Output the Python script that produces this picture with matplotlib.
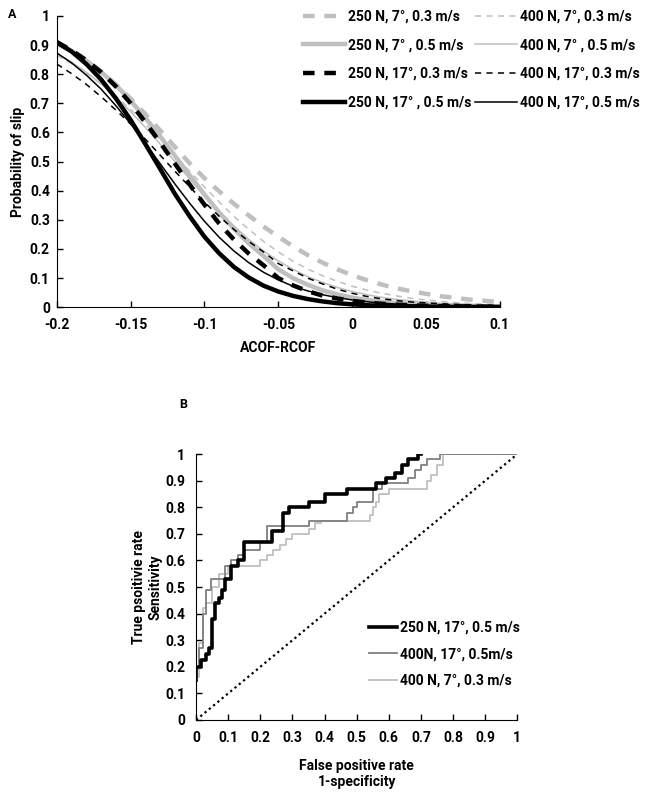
import numpy as np
import matplotlib
matplotlib.use("Agg")
import matplotlib.pyplot as plt
from matplotlib.lines import Line2D

plt.rcParams['font.family'] = ['Roboto', 'DejaVu Sans']
plt.rcParams['font.weight'] = 'bold'
plt.rcParams['axes.labelweight'] = 'bold'
plt.rcParams['font.size'] = 10

# panel A: probability of slip vs ACOF-RCOF
acof = [-0.20, -0.19, -0.18, -0.17, -0.16, -0.15, -0.14, -0.13, -0.12, -0.11,
        -0.10, -0.09, -0.08, -0.07, -0.06, -0.05, -0.04, -0.03, -0.02, -0.01,
        0.00, 0.01, 0.02, 0.03, 0.04, 0.05, 0.06, 0.07, 0.08, 0.09, 0.10]

p_250_7_03 = [0.905, 0.878, 0.846, 0.808, 0.765, 0.716, 0.663, 0.607, 0.550, 0.494,
              0.443, 0.398, 0.355, 0.315, 0.277, 0.242, 0.209, 0.179, 0.153, 0.130,
              0.110, 0.093, 0.078, 0.065, 0.055, 0.046, 0.038, 0.032, 0.026, 0.022, 0.018]
p_400_7_03 = [0.864, 0.836, 0.804, 0.767, 0.725, 0.679, 0.629, 0.577, 0.522, 0.467,
              0.413, 0.361, 0.312, 0.267, 0.226, 0.190, 0.158, 0.131, 0.108, 0.089,
              0.072, 0.059, 0.048, 0.039, 0.031, 0.025, 0.020, 0.016, 0.013, 0.011, 0.009]
p_250_7_05 = [0.905, 0.879, 0.847, 0.808, 0.763, 0.709, 0.650, 0.587, 0.520, 0.453,
              0.387, 0.325, 0.269, 0.219, 0.176, 0.130, 0.100, 0.077, 0.058, 0.044,
              0.033, 0.025, 0.019, 0.014, 0.011, 0.008, 0.006, 0.005, 0.004, 0.003, 0.003]
p_400_7_05 = [0.870, 0.841, 0.807, 0.767, 0.721, 0.671, 0.617, 0.560, 0.500, 0.440,
              0.382, 0.329, 0.279, 0.233, 0.193, 0.159, 0.130, 0.105, 0.085, 0.068,
              0.054, 0.043, 0.034, 0.027, 0.022, 0.017, 0.014, 0.012, 0.010, 0.008, 0.007]
p_250_17_03 = [0.910, 0.882, 0.848, 0.807, 0.758, 0.700, 0.635, 0.565, 0.493, 0.421,
               0.352, 0.287, 0.232, 0.184, 0.144, 0.100, 0.075, 0.055, 0.040, 0.030,
               0.022, 0.016, 0.012, 0.009, 0.007, 0.005, 0.004, 0.003, 0.003, 0.002, 0.002]
p_400_17_03 = [0.835, 0.802, 0.765, 0.723, 0.677, 0.629, 0.577, 0.522, 0.467, 0.413,
               0.361, 0.312, 0.267, 0.226, 0.190, 0.150, 0.125, 0.100, 0.080, 0.062,
               0.048, 0.037, 0.029, 0.023, 0.018, 0.015, 0.012, 0.010, 0.008, 0.007, 0.006]
p_250_17_05 = [0.910, 0.878, 0.835, 0.782, 0.717, 0.643, 0.560, 0.475, 0.389, 0.312,
               0.242, 0.185, 0.138, 0.102, 0.074, 0.054, 0.039, 0.028, 0.020, 0.014,
               0.010, 0.007, 0.005, 0.004, 0.003, 0.002, 0.002, 0.001, 0.001, 0.001, 0.001]
p_400_17_05 = [0.873, 0.839, 0.797, 0.749, 0.692, 0.630, 0.562, 0.493, 0.423, 0.357,
               0.295, 0.240, 0.193, 0.153, 0.120, 0.094, 0.072, 0.056, 0.043, 0.033,
               0.025, 0.019, 0.014, 0.011, 0.008, 0.006, 0.005, 0.004, 0.003, 0.002, 0.002]

# panel B: ROC curves (step points: fpr, tpr)
fpr_250_17_05 = [0, 0, 0.016, 0.03, 0.04, 0.05, 0.06, 0.07, 0.08, 0.09, 0.11, 0.13, 0.15,
                 0.235, 0.27, 0.29, 0.35, 0.40, 0.47, 0.56, 0.59, 0.62, 0.64, 0.66, 0.69, 0.70]
tpr_250_17_05 = [0.15, 0.20, 0.225, 0.25, 0.27, 0.38, 0.44, 0.46, 0.49, 0.53, 0.58, 0.60, 0.67,
                 0.71, 0.78, 0.80, 0.82, 0.85, 0.87, 0.89, 0.91, 0.93, 0.96, 0.98, 1.0, 1.0]
fpr_400_17_05 = [0, 0, 0.01, 0.02, 0.03, 0.045, 0.09, 0.11, 0.13, 0.15, 0.20, 0.22, 0.35,
                 0.47, 0.49, 0.50, 0.55, 0.58, 0.66, 0.68, 0.70, 0.72, 0.76, 1.0]
tpr_400_17_05 = [0.0, 0.20, 0.27, 0.40, 0.49, 0.53, 0.58, 0.60, 0.62, 0.64, 0.67, 0.73, 0.75,
                 0.78, 0.80, 0.82, 0.87, 0.89, 0.91, 0.94, 0.96, 0.98, 1.0, 1.0]
fpr_400_7_03 = [0, 0, 0.01, 0.02, 0.03, 0.05, 0.07, 0.10, 0.15, 0.20, 0.22, 0.24, 0.26, 0.28,
                0.30, 0.35, 0.37, 0.39, 0.52, 0.54, 0.55, 0.56, 0.57, 0.60, 0.70, 0.72, 0.73,
                0.75, 0.77, 1.0]
tpr_400_7_03 = [0.15, 0.16, 0.29, 0.42, 0.44, 0.50, 0.55, 0.58, 0.58, 0.60, 0.62, 0.64, 0.66,
                0.68, 0.70, 0.72, 0.74, 0.75, 0.75, 0.77, 0.80, 0.82, 0.85, 0.87, 0.87, 0.90,
                0.92, 0.96, 1.0, 1.0]

tick_labels = ['0', '0.1', '0.2', '0.3', '0.4', '0.5', '0.6', '0.7', '0.8', '0.9', '1']

fig = plt.figure(figsize=(6.45, 7.96), dpi=100)

LG = '#BFBFBF'
DG = '#7F7F7F'

# ---- panel A
ax1 = fig.add_axes([0.088, 0.614, 0.687, 0.366])
l1, = ax1.plot(acof, p_250_7_03, color=LG, lw=3.2, dashes=(2.6, 2.2))
l2, = ax1.plot(acof, p_400_7_03, color=LG, lw=1.1, dashes=(4, 3.5))
l3, = ax1.plot(acof, p_250_7_05, color=LG, lw=3.2)
l4, = ax1.plot(acof, p_400_7_05, color=LG, lw=1.1)
l5, = ax1.plot(acof, p_250_17_03, color='black', lw=3.2, dashes=(2.6, 2.2))
l6, = ax1.plot(acof, p_400_17_03, color='black', lw=1.1, dashes=(4, 3.5))
l7, = ax1.plot(acof, p_250_17_05, color='black', lw=3.2)
l8, = ax1.plot(acof, p_400_17_05, color='black', lw=1.1)

ax1.set_xlim(-0.2, 0.1)
ax1.set_ylim(0, 1)
ax1.set_xticks([-0.2, -0.15, -0.1, -0.05, 0, 0.05, 0.1])
ax1.set_xticklabels(['-0.2', '-0.15', '-0.1', '-0.05', '0', '0.05', '0.1'])
ax1.set_yticks(np.arange(0, 1.01, 0.1))
ax1.set_yticklabels(tick_labels)
ax1.tick_params(direction='in', length=4, width=1, pad=8)
ax1.tick_params(axis='y', pad=5)
ax1.spines['top'].set_visible(False)
ax1.spines['right'].set_visible(False)
ax1.set_xlabel('ACOF-RCOF', labelpad=6)
ax1.set_ylabel('Probability of slip')
ax1.yaxis.set_label_coords(-0.072, 0.5)

fig.legend([l1, l3, l5, l7, l2, l4, l6, l8],
           ['250 N, 7°, 0.3 m/s', '250 N, 7° , 0.5 m/s', '250 N, 17°, 0.3 m/s', '250 N, 17° , 0.5 m/s',
            '400 N, 7°, 0.3 m/s', '400 N, 7° , 0.5 m/s', '400 N, 17°, 0.3 m/s', '400 N, 17°, 0.5 m/s'],
           ncol=2, loc='upper left', bbox_to_anchor=(0.455, 1.0), frameon=False,
           handlelength=3.0, handletextpad=0.2, columnspacing=0.3, labelspacing=1.05,
           borderaxespad=0.3)

fig.text(0.012, 0.978, 'A', fontsize=9)
fig.text(0.278, 0.488, 'B', fontsize=9)

# ---- panel B
ax2 = fig.add_axes([0.304, 0.0955, 0.498, 0.334])
ax2.plot([0, 1], [0, 1], color='black', lw=1.6, ls=(0, (1, 1.5)))
ax2.step(fpr_400_7_03, tpr_400_7_03, where='post', color=LG, lw=1.3)
ax2.step(fpr_400_17_05, tpr_400_17_05, where='post', color=DG, lw=1.3)
ax2.step(fpr_250_17_05, tpr_250_17_05, where='post', color='black', lw=2.6)

ax2.set_xlim(0, 1)
ax2.set_ylim(0, 1)
ticks = np.arange(0, 1.01, 0.1)
ax2.set_xticks(ticks)
ax2.set_xticklabels(tick_labels)
ax2.set_yticks(ticks)
ax2.set_yticklabels(tick_labels)
ax2.tick_params(direction='in', length=4, width=1, pad=8)
ax2.spines['top'].set_visible(False)
ax2.spines['right'].set_visible(False)
ax2.set_xlabel('False positive rate\n1-specificity', labelpad=10)
ax2.set_ylabel('True psoitivie rate\nSensitivity', labelpad=2)

hb = [Line2D([], [], color='black', lw=2.6),
      Line2D([], [], color=DG, lw=1.3),
      Line2D([], [], color=LG, lw=1.3)]
ax2.legend(hb, ['250 N, 17°, 0.5 m/s', '400N, 17°, 0.5m/s', '400 N, 7°, 0.3 m/s'],
           loc='upper left', bbox_to_anchor=(0.5, 0.42), frameon=False,
           handlelength=2.0, handletextpad=0.2, labelspacing=0.9)

fig.savefig('out.png', dpi=100)
